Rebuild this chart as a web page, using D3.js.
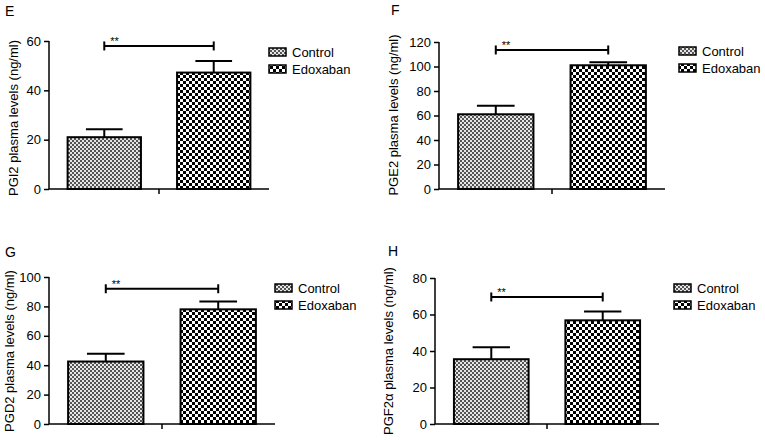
<!DOCTYPE html>
<html>
<head>
<meta charset="utf-8">
<script src="https://cdn.jsdelivr.net/npm/d3@7"></script>
<style>
  html, body { margin: 0; padding: 0; background: #fff; }
  svg { display: block; font-family: "Liberation Sans", Arial, sans-serif; }
</style>
</head>
<body>
<svg id="chart" width="765" height="440"></svg>
<script>
// ---- data ----
const panelLetters = ["E", "F", "G", "H"];
const yAxisTitles = [
  "PGI2 plasma levels (ng/ml)",
  "PGE2 plasma levels (ng/ml)",
  "PGD2 plasma levels (ng/ml)",
  "PGF2\u03b1 plasma levels (ng/ml)"
];
const groups = ["Control", "Edoxaban"];
const controlMeans = [21, 61, 42.5, 35.5];
const controlErrors = [3.2, 7, 5.3, 6.6];
const edoxabanMeans = [47.2, 101, 78, 56.8];
const edoxabanErrors = [4.7, 2.5, 5.3, 4.8];
const yMaxValues = [60, 120, 100, 80];
const yTickValues = [
  [0, 20, 40, 60],
  [0, 20, 40, 60, 80, 100, 120],
  [0, 20, 40, 60, 80, 100],
  [0, 20, 40, 60, 80]
];
const bracketLevels = [58, 113.5, 92, 69.6];
const significanceLabels = ["**", "**", "**", "**"];

// ---- layout (pixels) ----
const layout = [
  { ax: 49,  xEnd: 269, y0: 189, yTop: 41,  letter: [5, 16],   title: [18, 118],  legend: [269, 48] },
  { ax: 439, xEnd: 665, y0: 189, yTop: 42,  letter: [391, 15], title: [398, 115], legend: [679, 47] },
  { ax: 49,  xEnd: 275, y0: 424, yTop: 277, letter: [5, 257],  title: [14, 351],  legend: [275, 284] },
  { ax: 435, xEnd: 659, y0: 424, yTop: 278, letter: [388, 256], title: [393, 351], legend: [674, 284] }
];

const svg = d3.select("#chart");
const defs = svg.append("defs");

// fine grey checker for Control
const pc = defs.append("pattern").attr("id", "patControl")
  .attr("patternUnits", "userSpaceOnUse").attr("width", 4).attr("height", 4);
pc.append("rect").attr("width", 4).attr("height", 4).attr("fill", "#e6e6e6");
pc.append("rect").attr("width", 2).attr("height", 2).attr("fill", "#555");
pc.append("rect").attr("x", 2).attr("y", 2).attr("width", 2).attr("height", 2).attr("fill", "#555");

// coarse black/white checker for Edoxaban
const pe = defs.append("pattern").attr("id", "patEdox")
  .attr("patternUnits", "userSpaceOnUse").attr("width", 6).attr("height", 6);
pe.append("rect").attr("width", 6).attr("height", 6).attr("fill", "#fff");
pe.append("rect").attr("width", 3).attr("height", 3).attr("fill", "#000");
pe.append("rect").attr("x", 3).attr("y", 3).attr("width", 3).attr("height", 3).attr("fill", "#000");

const fills = ["url(#patControl)", "url(#patEdox)"];

panelLetters.forEach((letter, i) => {
  const L = layout[i];
  const g = svg.append("g");

  const y = d3.scaleLinear().domain([0, yMaxValues[i]]).range([L.y0, L.yTop]);
  const x = d3.scaleBand().domain(groups).range([L.ax, L.xEnd])
    .paddingInner(0.33).paddingOuter(0.17);

  const means = [controlMeans[i], edoxabanMeans[i]];
  const errs = [controlErrors[i], edoxabanErrors[i]];

  // y axis
  const yAxis = g.append("g").attr("transform", `translate(${L.ax},0)`)
    .call(d3.axisLeft(y).tickValues(yTickValues[i]).tickSize(5).tickPadding(3).tickFormat(d3.format("d")));
  yAxis.select(".domain").attr("d", `M0,${L.y0}V${L.yTop}`).attr("stroke", "#000").attr("stroke-width", 1.5);
  yAxis.selectAll(".tick line").attr("stroke", "#000").attr("stroke-width", 1.5);
  yAxis.selectAll(".tick text").attr("font-size", 13).attr("fill", "#000")
    .attr("font-family", "'Liberation Sans', Arial, sans-serif");

  // x axis: line with one centre tick
  g.append("line").attr("x1", L.ax).attr("x2", L.xEnd).attr("y1", L.y0).attr("y2", L.y0)
    .attr("stroke", "#000").attr("stroke-width", 1.5);
  const xc = (L.ax + L.xEnd) / 2;
  g.append("line").attr("x1", xc).attr("x2", xc).attr("y1", L.y0).attr("y2", L.y0 + 5)
    .attr("stroke", "#000").attr("stroke-width", 1.5);

  // error bars (drawn before bars so stems sit behind bar tops)
  groups.forEach((grp, j) => {
    const cx = x(grp) + x.bandwidth() / 2;
    const top = y(means[j] + errs[j]);
    const capW = x.bandwidth() / 2;
    g.append("line").attr("x1", cx).attr("x2", cx).attr("y1", y(means[j])).attr("y2", top)
      .attr("stroke", "#000").attr("stroke-width", 2);
    g.append("line").attr("x1", cx - capW / 2).attr("x2", cx + capW / 2).attr("y1", top).attr("y2", top)
      .attr("stroke", "#000").attr("stroke-width", 2);
  });

  // bars
  g.selectAll("rect.bar").data(groups).enter().append("rect")
    .attr("class", "bar")
    .attr("x", d => x(d))
    .attr("width", x.bandwidth())
    .attr("y", (d, j) => y(means[j]))
    .attr("height", (d, j) => L.y0 - y(means[j]))
    .attr("fill", (d, j) => fills[j])
    .attr("stroke", "#000").attr("stroke-width", 2);

  // significance bracket
  const bx1 = x(groups[0]) + x.bandwidth() / 2;
  const bx2 = x(groups[1]) + x.bandwidth() / 2;
  const by = y(bracketLevels[i]);
  g.append("line").attr("x1", bx1).attr("x2", bx2).attr("y1", by).attr("y2", by)
    .attr("stroke", "#000").attr("stroke-width", 2);
  [bx1, bx2].forEach(bx => {
    g.append("line").attr("x1", bx).attr("x2", bx).attr("y1", by - 4.5).attr("y2", by + 4.5)
      .attr("stroke", "#000").attr("stroke-width", 2);
  });
  g.append("text").attr("x", bx1 + 6).attr("y", by - 1)
    .attr("font-size", 11).attr("fill", "#000").text(significanceLabels[i]);

  // panel letter
  g.append("text").attr("x", L.letter[0]).attr("y", L.letter[1])
    .attr("font-size", 14).attr("fill", "#000").text(letter);

  // y axis title
  g.append("text")
    .attr("transform", `translate(${L.title[0]},${L.title[1]}) rotate(-90)`)
    .attr("text-anchor", "middle").attr("font-size", 13).attr("fill", "#000")
    .text(yAxisTitles[i]);

  // legend
  groups.forEach((grp, j) => {
    const lx = L.legend[0], ly = L.legend[1] + j * 17;
    g.append("rect").attr("x", lx).attr("y", ly).attr("width", 17).attr("height", 8)
      .attr("fill", fills[j]).attr("stroke", "#000").attr("stroke-width", 1.5);
    g.append("text").attr("x", lx + 23).attr("y", ly + 9)
      .attr("font-size", 13).attr("fill", "#000").text(grp);
  });
});
</script>
</body>
</html>
